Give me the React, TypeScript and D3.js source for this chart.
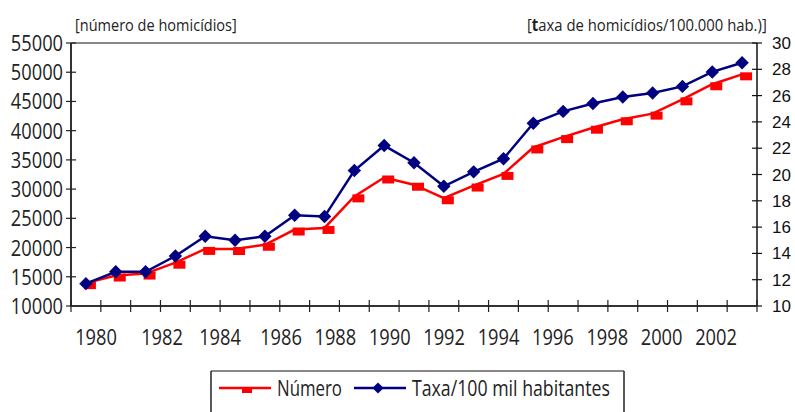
import React, { useEffect, useRef } from 'react';
import * as d3 from 'd3';

// anos 1980-2002
const years = d3.range(1980, 2003);
const numero = [13910, 15213, 15550, 17408, 19767, 19747, 20481, 23087, 23357, 28757, 31989, 30750, 28435, 30610, 32603, 37129, 38894, 40507, 41950, 42914, 45360, 47943, 49640];
const taxa = [11.7, 12.6, 12.6, 13.8, 15.3, 15.0, 15.3, 16.9, 16.8, 20.3, 22.2, 20.9, 19.1, 20.2, 21.2, 23.9, 24.8, 25.4, 25.9, 26.2, 26.7, 27.8, 28.5];
const leftTicks = [10000, 15000, 20000, 25000, 30000, 35000, 40000, 45000, 50000, 55000];
const rightTicks = [10, 12, 14, 16, 18, 20, 22, 24, 26, 28, 30];
const yearLabels = [1980, 1982, 1984, 1986, 1988, 1990, 1992, 1994, 1996, 1998, 2000, 2002];

const FONT = '"Open Sans", "Noto Sans", sans-serif';
const ARIAL = '"Liberation Sans", Arial, sans-serif';
const SX = 0.83; // condensed look of the original font

const App = () => {
  const svgRef = useRef<SVGSVGElement>(null);

  useEffect(() => {
    const width = 795;
    const height = 412;
    const m = { top: 43, right: 38, bottom: 106, left: 71 };
    const x0 = m.left, x1 = width - m.right;
    const y0 = height - m.bottom, y1 = m.top;

    const svg = d3.select(svgRef.current);
    svg.selectAll('*').remove();
    svg.attr('width', width).attr('height', height);

    const condensed = (g: any, tx: number, ty: number, txt: string, size: number, anchor = 'start') =>
      g.append('g').attr('transform', `translate(${tx},${ty}) scale(${SX},1)`)
        .append('text').attr('text-anchor', anchor)
        .attr('font-family', FONT).attr('font-size', size).attr('fill', '#222')
        .text(txt);

    // text squeezed to a given width (the original uses a narrow face)
    const fitted = (g: any, tx: number, ty: number, size: number, w: number) => {
      const grp = g.append('g');
      const t = grp.append('text')
        .attr('font-family', FONT).attr('font-size', size).attr('fill', '#222');
      return {
        t,
        done: () => {
          const natural = (t.node() as SVGTextElement).getComputedTextLength();
          grp.attr('transform', `translate(${tx},${ty}) scale(${w / natural},1)`);
        },
      };
    };

    const x = d3.scaleBand<number>().domain(years).range([x0, x1]);
    const cx = (d: number) => (x(d) as number) + x.bandwidth() / 2;
    const yL = d3.scaleLinear().domain([10000, 55000]).range([y0, y1]);
    const yR = d3.scaleLinear().domain([10, 30]).range([y0, y1]);
    // label placement on the x axis is not aligned to the categories in the original
    const xLab = d3.scaleLinear().domain([1980, 1982, 1984, 1986, 2002]).range([96, 162, 220, 281, 716]);

    // top border
    svg.append('line').attr('x1', x0).attr('x2', x1).attr('y1', y1).attr('y2', y1)
      .attr('stroke', '#888').attr('stroke-width', 2);

    // left axis
    svg.append('line').attr('x1', x0).attr('x2', x0).attr('y1', y1).attr('y2', y0 + 1)
      .attr('stroke', '#333').attr('stroke-width', 2);
    const lt = svg.append('g');
    lt.selectAll('line').data(leftTicks).enter().append('line')
      .attr('x1', x0 - 5).attr('x2', x0 + 5)
      .attr('y1', d => yL(d)).attr('y2', d => yL(d))
      .attr('stroke', '#222').attr('stroke-width', 1.2);
    leftTicks.forEach(d => condensed(lt, x0 - 8, yL(d) + 8, String(d), 22, 'end'));

    // right axis
    svg.append('line').attr('x1', x1).attr('x2', x1).attr('y1', y1).attr('y2', y0)
      .attr('stroke', '#111').attr('stroke-width', 1.5);
    const rt = svg.append('g');
    rt.selectAll('line').data(rightTicks).enter().append('line')
      .attr('x1', x1 - 5).attr('x2', x1 + 5)
      .attr('y1', d => yR(d)).attr('y2', d => yR(d))
      .attr('stroke', '#111').attr('stroke-width', 1.2);
    rt.selectAll('text').data(rightTicks).enter().append('text')
      .attr('x', x1 + 15).attr('y', d => yR(d) + 6)
      .attr('font-family', ARIAL).attr('font-size', 17).attr('fill', '#111')
      .text(d => String(d));

    // bottom axis
    svg.append('line').attr('x1', x0 - 1).attr('x2', x1).attr('y1', y0).attr('y2', y0)
      .attr('stroke', '#333').attr('stroke-width', 2);
    const boundaries = years.map(d => x(d) as number).concat([x1]);
    svg.append('g').selectAll('line').data(boundaries).enter().append('line')
      .attr('x1', d => d).attr('x2', d => d)
      .attr('y1', y0 - 6).attr('y2', y0 + 6)
      .attr('stroke', '#222').attr('stroke-width', 1.2);
    const xl = svg.append('g');
    yearLabels.forEach(d => condensed(xl, xLab(d), y0 + 39, String(d), 22, 'middle'));

    // axis titles
    const tl = fitted(svg, 75, 31, 17, 162);
    tl.t.text('[número de homicídios]');
    tl.done();
    const tr = fitted(svg, 527, 31, 17, 240);
    tr.t.append('tspan').text('[');
    tr.t.append('tspan').attr('font-weight', 'bold').text('t');
    tr.t.append('tspan').text('axa de homicídios/100.000 hab.)]');
    tr.done();

    // number series (red)
    const lineL = d3.line<number>().x((_, i) => cx(years[i])).y(d => yL(d));
    svg.append('path').datum(numero).attr('d', lineL)
      .attr('fill', 'none').attr('stroke', '#ff0000').attr('stroke-width', 2.5);
    svg.append('g').selectAll('rect').data(numero).enter().append('rect')
      .attr('x', (_, i) => cx(years[i]) - 2).attr('y', d => yL(d) - 2)
      .attr('width', 12).attr('height', 8)
      .attr('fill', '#ff0000');

    // rate series (navy)
    const lineR = d3.line<number>().x((_, i) => cx(years[i])).y(d => yR(d));
    svg.append('path').datum(taxa).attr('d', lineR)
      .attr('fill', 'none').attr('stroke', '#000080').attr('stroke-width', 2.5);
    const diamond = d3.symbol().type(d3.symbolDiamond2).size(115);
    svg.append('g').selectAll('path').data(taxa).enter().append('path')
      .attr('d', diamond)
      .attr('transform', (d, i) => `translate(${cx(years[i])},${yR(d)})`)
      .attr('fill', '#000080');

    // legend
    const lg = svg.append('g');
    const lx0 = 211, lx1 = 624, ly = 371;
    lg.append('line').attr('x1', lx0).attr('x2', lx1).attr('y1', ly).attr('y2', ly)
      .attr('stroke', '#888').attr('stroke-width', 2);
    [lx0, lx1].forEach(v => lg.append('line').attr('x1', v).attr('x2', v).attr('y1', ly).attr('y2', height)
      .attr('stroke', '#222').attr('stroke-width', 1.5));
    lg.append('line').attr('x1', 219).attr('x2', 271).attr('y1', 388).attr('y2', 388)
      .attr('stroke', '#ff0000').attr('stroke-width', 2.5);
    lg.append('rect').attr('x', 242).attr('y', 387).attr('width', 10).attr('height', 6).attr('fill', '#ff0000');
    const l1 = fitted(lg, 277, 396, 21, 65);
    l1.t.text('Número');
    l1.done();
    lg.append('line').attr('x1', 354).attr('x2', 406).attr('y1', 388).attr('y2', 388)
      .attr('stroke', '#000080').attr('stroke-width', 2.5);
    lg.append('path').attr('d', d3.symbol().type(d3.symbolDiamond2).size(80))
      .attr('transform', 'translate(378,388)').attr('fill', '#000080');
    const l2 = fitted(lg, 412, 396, 21, 198);
    l2.t.text('Taxa/100 mil habitantes');
    l2.done();
  }, []);

  return (
    <div style={{ position: 'absolute', left: 0, top: 0, background: '#fff' }}>
      <svg ref={svgRef} style={{ display: 'block' }}></svg>
    </div>
  );
};

export default App;
